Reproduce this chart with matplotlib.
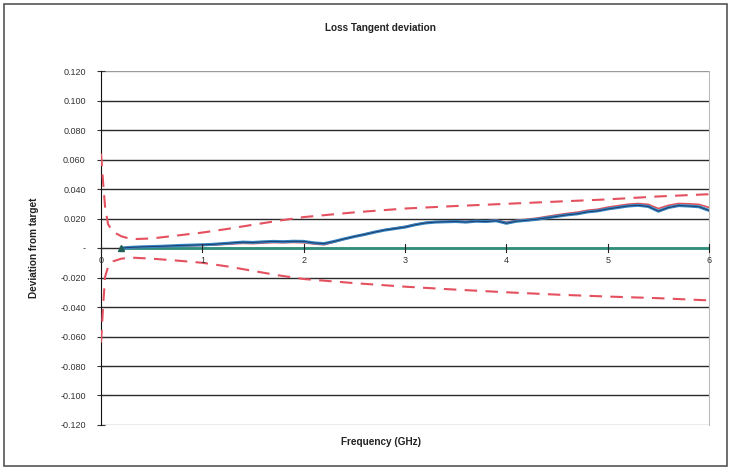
import numpy as np
import matplotlib
matplotlib.use('Agg')
import matplotlib.pyplot as plt
import matplotlib.ticker as ticker
from matplotlib.patches import Rectangle

plt.rcParams['font.family'] = ['Liberation Sans', 'DejaVu Sans']

# Limit curves (red dashed)
limit_freq = [0.0, 0.02, 0.04, 0.07, 0.12, 0.2, 0.3, 0.5, 0.75, 1.0, 1.25, 1.5, 1.75, 2.0,
              2.5, 3.0, 3.5, 4.0, 4.5, 5.0, 5.5, 6.0]
limit_upper = [0.064, 0.045, 0.028, 0.016, 0.011, 0.008, 0.006, 0.0065, 0.0085, 0.0105, 0.013,
               0.0158, 0.0185, 0.021, 0.0242, 0.0268, 0.0285, 0.030, 0.0315, 0.033, 0.035, 0.0365]
limit_lower = [-0.064, -0.040, -0.0195, -0.0127, -0.009, -0.0072, -0.0065, -0.0072, -0.0085,
               -0.0100, -0.0125, -0.0155, -0.0185, -0.021, -0.0238, -0.0262, -0.0282, -0.030,
               -0.0316, -0.0329, -0.034, -0.0355]

# Measured deviation (blue) and reference trace (red solid)
freq = [0.2, 0.3, 0.4, 0.5, 0.6, 0.7, 0.8, 0.9, 1.0, 1.1, 1.2, 1.3, 1.4, 1.5, 1.6, 1.7, 1.8,
        1.9, 2.0, 2.1, 2.2, 2.3, 2.4, 2.5, 2.6, 2.7, 2.8, 2.9, 3.0, 3.1, 3.2, 3.3, 3.4, 3.5,
        3.6, 3.7, 3.8, 3.9, 4.0, 4.1, 4.2, 4.3, 4.4, 4.5, 4.6, 4.7, 4.8, 4.9, 5.0, 5.1, 5.2,
        5.3, 5.4, 5.5, 5.6, 5.7, 5.8, 5.9, 6.0]
measured = [0.0, 0.0005, 0.0008, 0.0010, 0.0012, 0.0015, 0.0018, 0.0020, 0.0022, 0.0025,
            0.0030, 0.0035, 0.0040, 0.0038, 0.0042, 0.0045, 0.0043, 0.0046, 0.0045, 0.0035,
            0.0030, 0.0045, 0.0062, 0.0078, 0.0092, 0.0108, 0.0122, 0.0132, 0.0142, 0.0158,
            0.0170, 0.0176, 0.0178, 0.0180, 0.0176, 0.0182, 0.0180, 0.0185, 0.0168, 0.0182,
            0.0188, 0.0195, 0.0205, 0.0215, 0.0225, 0.0232, 0.0245, 0.0252, 0.0265, 0.0275,
            0.0285, 0.0290, 0.0282, 0.0250, 0.0275, 0.0288, 0.0285, 0.0280, 0.0255]
reference = [0.0, 0.0003, 0.0006, 0.0008, 0.0010, 0.0012, 0.0014, 0.0016, 0.0018, 0.0020,
             0.0024, 0.0028, 0.0032, 0.0030, 0.0034, 0.0037, 0.0036, 0.0038, 0.0036, 0.0028,
             0.0022, 0.0040, 0.0060, 0.0078, 0.0094, 0.0110, 0.0124, 0.0135, 0.0146, 0.0160,
             0.0172, 0.0178, 0.0181, 0.0183, 0.0180, 0.0186, 0.0184, 0.0189, 0.0175, 0.0188,
             0.0195, 0.0203, 0.0214, 0.0225, 0.0235, 0.0243, 0.0256, 0.0263, 0.0277, 0.0287,
             0.0297, 0.0302, 0.0296, 0.0268, 0.0290, 0.0302, 0.0300, 0.0296, 0.0275]

target_freq = [0.2, 6.0]
target = [0.0, 0.0]

yticks = np.arange(-0.12, 0.1201, 0.02)

fig = plt.figure(figsize=(7.31, 4.74), dpi=100)
ax = fig.add_axes([0.1382, 0.1034, 0.8318, 0.7466])

# outer chart frame
fig.patches.append(Rectangle((0.006, 0.016), 0.988, 0.976, transform=fig.transFigure,
                             fill=False, edgecolor='#555555', linewidth=1.2))

for y in yticks:
    c = '#9a9a9a' if abs(abs(y) - 0.12) < 1e-9 else '#2a2a2a'
    ax.axhline(y, color=c, linewidth=1.0, zorder=1)

ax.plot(limit_freq, limit_upper, color='#e4505e', linewidth=1.5, dashes=(6, 4), zorder=3)
ax.plot(limit_freq, limit_lower, color='#e4505e', linewidth=1.5, dashes=(6, 4), zorder=3)
ax.plot(target_freq, target, color='#2f8f7a', linewidth=2.0, zorder=3)
ax.plot(freq, reference, color='#e0505a', linewidth=1.2, zorder=4)
ax.plot(freq, measured, color='#3583c0', linewidth=2.2, zorder=5)
ax.plot(freq, measured, color='#1b3560', linewidth=0.6, zorder=6)
ax.plot([0.2], [0.0], marker='^', color='#1f5f55', markersize=4, zorder=6)

ax.set_xlim(0, 6)
ax.set_ylim(-0.12, 0.12)
ax.set_yticks(yticks)
ax.yaxis.set_major_formatter(ticker.FuncFormatter(
    lambda v, pos: '-' if abs(v) < 1e-9 else f'{v:.3f}'))
ax.tick_params(axis='y', labelsize=6.5, colors='#333333', direction='inout', length=6,
               width=0.8, pad=8)

# x axis drawn on the zero line, labels just under it
ax.set_xticks([])
for k in range(7):
    ax.plot([k, k], [-0.0025, 0.0025], color='#222222', linewidth=0.8, zorder=7, clip_on=False)
    ax.text(k, -0.0085, str(k), ha='center', va='center', fontsize=6.5, color='#333333')

ax.spines['top'].set_visible(False)
ax.spines['bottom'].set_visible(False)
ax.spines['left'].set_color('#111111')
ax.spines['right'].set_color('#bbbbbb')

fig.text(0.521, 0.94, 'Loss Tangent deviation', ha='center', va='center', fontsize=7.2,
         fontweight='bold', color='#222222')
fig.text(0.046, 0.478, 'Deviation from target', ha='center', va='center', rotation=90,
         fontsize=7.2, fontweight='bold', color='#222222')
fig.text(0.521, 0.068, 'Frequency (GHz)', ha='center', va='center', fontsize=7.2,
         fontweight='bold', color='#222222')

fig.savefig('out.png', dpi=100)
